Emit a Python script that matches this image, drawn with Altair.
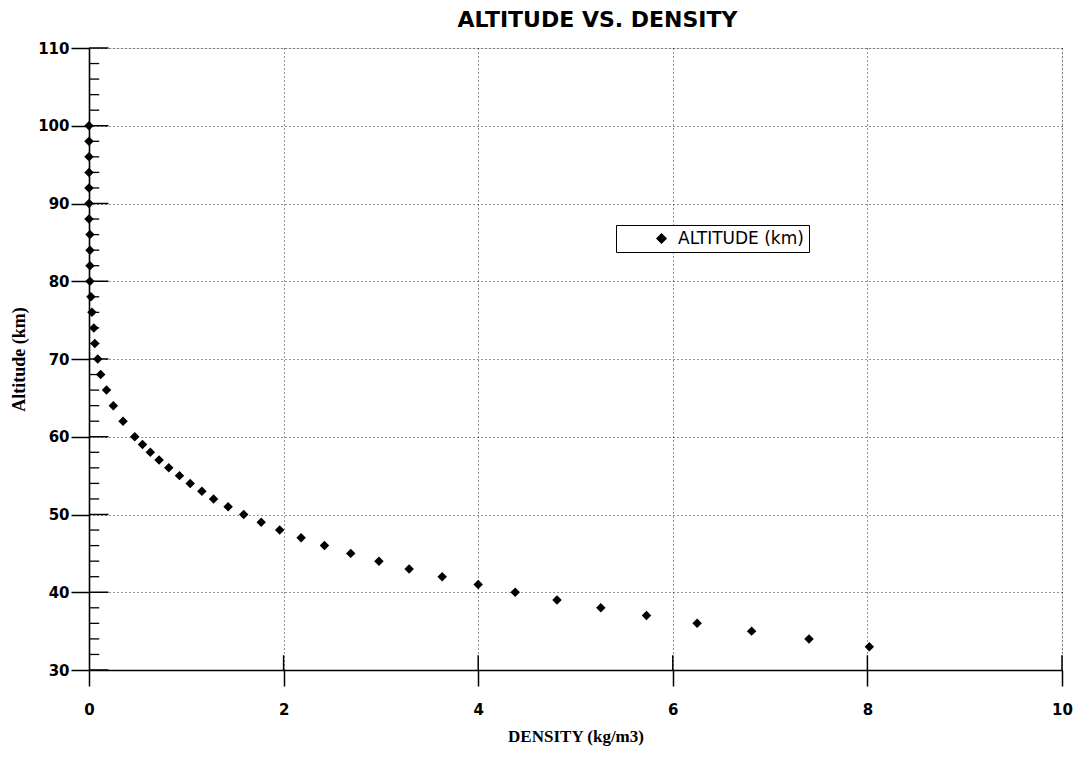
import altair as alt
import pandas as pd

# ---- data ----
altitude = [100, 98, 96, 94, 92, 90, 88, 86, 84, 82, 80, 78, 76, 74, 72, 70, 68, 66, 64, 62, 60,
            59, 58, 57, 56, 55, 54, 53, 52, 51, 50, 49, 48, 47, 46, 45, 44, 43, 42, 41, 40,
            39, 38, 37, 36, 35, 34, 33]
density = [0.00, 0.00, 0.00, 0.00, 0.00, 0.00, 0.00, 0.01, 0.01, 0.01, 0.01, 0.02, 0.03, 0.05,
           0.06, 0.09, 0.12, 0.18, 0.25, 0.35, 0.47,
           0.55, 0.63, 0.72, 0.82, 0.93, 1.04, 1.16, 1.28, 1.43, 1.59, 1.77, 1.96, 2.18, 2.42,
           2.69, 2.98, 3.29, 3.63, 4.00, 4.38,
           4.81, 5.26, 5.73, 6.25, 6.81, 7.40, 8.02]
series_name = "ALTITUDE (km)"

x_ticks = [0, 2, 4, 6, 8, 10]
y_ticks = [30, 40, 50, 60, 70, 80, 90, 100, 110]
y_minor = [v for v in range(32, 110, 2) if v % 10 != 0]

# inward tick lengths in data units (style constants)
Y_MAJOR_IN = 0.2
Y_MINOR_IN = 0.105
X_MAJOR_IN = 1.9

df = pd.DataFrame({"density": density, "altitude": altitude, "series": series_name})
df_ymaj = pd.DataFrame({"y": y_ticks, "x0": 0.0, "x1": Y_MAJOR_IN})
df_ymin = pd.DataFrame({"y": y_minor, "x0": 0.0, "x1": Y_MINOR_IN})
df_xmaj = pd.DataFrame({"x": x_ticks[1:], "y0": 30.0, "y1": 30.0 + X_MAJOR_IN})

xscale = alt.Scale(domain=[0, 10], nice=False, zero=False)
yscale = alt.Scale(domain=[30, 110], nice=False, zero=False)

xaxis = alt.Axis(values=x_ticks, tickSize=16, tickWidth=1.5, tickColor="black",
                 domainColor="black", domainWidth=1.6,
                 grid=True, gridColor="black", gridDash=[1, 3], gridWidth=1, gridOpacity=0.85,
                 labelFont="DejaVu Sans", labelFontWeight="bold", labelFontSize=15,
                 labelColor="black", labelPadding=16, labelFlush=False,
                 title="DENSITY (kg/m3)", titleFont="Liberation Serif", titleFontWeight="bold",
                 titleFontSize=17, titleColor="black", titlePadding=11)
yaxis = alt.Axis(values=y_ticks, tickSize=18, tickWidth=1.5, tickColor="black",
                 domainColor="black", domainWidth=1.6,
                 grid=True, gridColor="black", gridDash=[1, 3], gridWidth=1, gridOpacity=0.85,
                 labelFont="DejaVu Sans", labelFontWeight="bold", labelFontSize=15,
                 labelColor="black", labelPadding=2, labelFlush=False,
                 title="Altitude (km)", titleFont="Liberation Serif", titleFontWeight="bold",
                 titleFontSize=18, titleColor="black", titlePadding=9)

points = alt.Chart(df).mark_point(shape="diamond", filled=True, size=90, opacity=1).encode(
    x=alt.X("density:Q", scale=xscale, axis=xaxis),
    y=alt.Y("altitude:Q", scale=yscale, axis=yaxis),
    color=alt.Color("series:N", scale=alt.Scale(range=["black"]),
                    legend=alt.Legend(title=None, orient="none", legendX=527, legendY=177,
                                      strokeColor="black", padding=5, fillColor="white",
                                      symbolType="diamond", symbolSize=80,
                                      symbolFillColor="black", symbolStrokeColor="black",
                                      symbolOffset=32, labelOffset=8,
                                      labelFont="DejaVu Sans", labelFontSize=17,
                                      labelColor="black")),
)

ymaj = alt.Chart(df_ymaj).mark_rule(color="black", strokeWidth=1.5).encode(
    x=alt.X("x0:Q", scale=xscale, axis=xaxis), x2="x1:Q",
    y=alt.Y("y:Q", scale=yscale, axis=yaxis),
)
ymin = alt.Chart(df_ymin).mark_rule(color="black", strokeWidth=1.3).encode(
    x=alt.X("x0:Q", scale=xscale, axis=xaxis), x2="x1:Q",
    y=alt.Y("y:Q", scale=yscale, axis=yaxis),
)
xmaj = alt.Chart(df_xmaj).mark_rule(color="black", strokeWidth=1.5).encode(
    x=alt.X("x:Q", scale=xscale, axis=xaxis),
    y=alt.Y("y0:Q", scale=yscale, axis=yaxis), y2="y1:Q",
)

chart = alt.layer(ymaj, ymin, xmaj, points).properties(
    width=973, height=622,
    title=alt.TitleParams("ALTITUDE VS. DENSITY", font="DejaVu Sans", fontSize=22,
                          fontWeight="bold", color="black", anchor="middle", dx=22, offset=9),
    autosize=alt.AutoSizeParams(type="none"),
    padding={"left": 81, "top": 40, "right": 15, "bottom": 76},
).configure_view(stroke=None).configure(background="white")

chart.save("out.html", embed_options={"renderer": "svg", "actions": False})
